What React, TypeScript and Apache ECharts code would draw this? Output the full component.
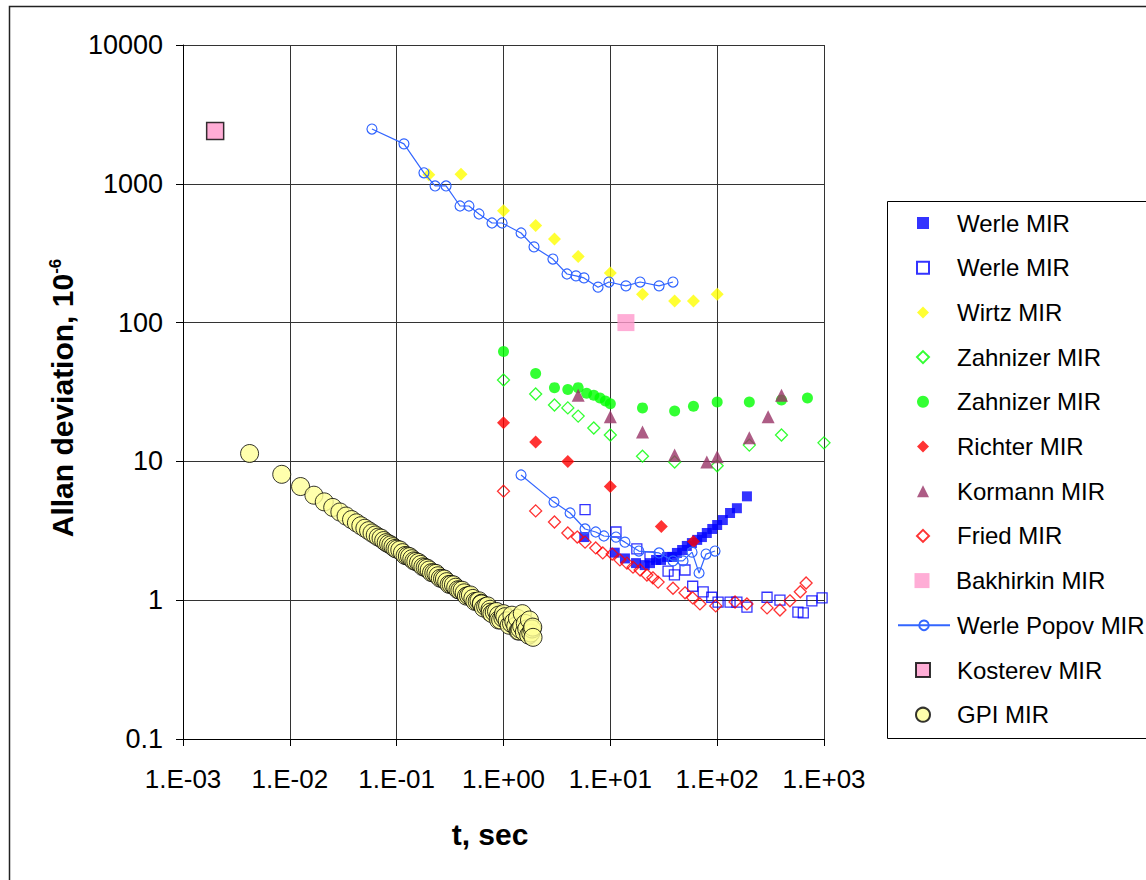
import React, { useEffect, useRef } from 'react';
import * as echarts from 'echarts';

const FONT = '"Liberation Sans", Arial, sans-serif';

const xTickValues = [0.001, 0.01, 0.1, 1, 10, 100, 1000];
const xTickLabels = ['1.E-03', '1.E-02', '1.E-01', '1.E+00', '1.E+01', '1.E+02', '1.E+03'];
const yTickValues = [0.1, 1, 10, 100, 1000, 10000];
const yTickLabels = ['0.1', '1', '10', '100', '1000', '10000'];

const werleFilled = [[5.7, 2.85], [11, 2.2], [13.7, 2.0], [17.4, 1.85], [21, 1.79], [23.5, 1.85], [26.8, 1.95], [29.8, 1.95], [34, 2.05], [38, 2.05], [42, 2.19], [47, 2.3], [52, 2.46], [58, 2.58], [65, 2.72], [72, 2.85], [80, 3.05], [90, 3.26], [100, 3.48], [113, 3.78], [132, 4.25], [153, 4.6], [190, 5.6]];
const werleOpen = [[5.8, 4.5], [11.3, 3.1], [17.7, 2.34], [23.5, 2.05], [34.7, 1.62], [39.8, 1.52], [50, 1.65], [59, 1.26], [74, 1.15], [89, 1.05], [102, 0.97], [132, 0.97], [153, 0.97], [190, 0.89], [293, 1.05], [387, 1.0], [570, 0.82], [640, 0.81], [770, 0.99], [960, 1.04]];
const wirtz = [[0.2, 1160], [0.4, 1170], [1, 640], [2, 500], [3, 400], [5, 300], [10, 228], [20, 160], [40, 143], [60, 143], [100, 160]];
const zahnizerOpen = [[1, 38.6], [2, 30.6], [3, 25.5], [4, 24.3], [5, 21.2], [7, 17.4], [10, 15.5], [20, 10.9], [40, 9.9], [100, 9.3], [200, 13.1], [400, 15.5], [1000, 13.6]];
const zahnizerFilled = [[1, 62], [2, 43], [3, 34], [4, 33], [5, 34], [6, 31], [7, 30], [8, 28.6], [9, 27.2], [10, 26], [20, 24.3], [40, 23.1], [60, 25], [100, 26.8], [200, 26.8], [400, 27.7], [700, 28.6]];
const richter = [[1, 19], [2, 13.8], [4, 10], [10, 6.6], [30, 3.4], [60, 2.65]];
const kormann = [[5, 30], [10, 21], [20, 16.3], [40, 11.1], [80, 9.9], [100, 10.8], [200, 14.8], [300, 21], [400, 30]];
const fried = [[1, 6.1], [2, 4.4], [3, 3.66], [4, 3.05], [4.9, 2.85], [5.8, 2.62], [7.3, 2.38], [8.5, 2.19], [10.4, 2.15], [12.3, 1.95], [14.3, 1.85], [16.3, 1.73], [19, 1.65], [22, 1.52], [25, 1.45], [28, 1.35], [38.6, 1.22], [50, 1.13], [59, 1.04], [69, 0.94], [97, 0.91], [147, 0.97], [190, 0.94], [293, 0.88], [387, 0.85], [480, 0.99], [600, 1.15], [680, 1.33]];
const bakhirkin = [[14, 100]];
const popovUpper = [[0.0587, 2480], [0.117, 1940], [0.18, 1200], [0.229, 965], [0.29, 965], [0.392, 692], [0.475, 692], [0.59, 606], [0.78, 522], [0.97, 522], [1.46, 442], [1.93, 351], [2.9, 287], [3.93, 224], [4.77, 217], [5.67, 210], [7.67, 180], [9.7, 196], [14, 184], [19, 196], [28.6, 184], [38.6, 196]];
const popovLower = [[1.46, 7.98], [2.97, 5.09], [4.2, 4.25], [5.8, 3.26], [7.3, 3.1], [8.7, 2.9], [11.3, 2.85], [13.7, 2.62], [18.5, 2.26], [28.6, 2.19], [38.6, 1.92], [47.9, 1.92], [58.2, 2.22], [67.7, 1.57], [78.7, 2.15], [95.5, 2.26]];
const kosterev = [[0.002, 2400]];
const gpiT = [0.0042, 0.0084, 0.0126, 0.0168, 0.021, 0.0252, 0.0294, 0.0336, 0.0378, 0.042, 0.0462, 0.0504, 0.0546, 0.0588, 0.063, 0.0672, 0.0756, 0.084, 0.0924, 0.1008, 0.1134, 0.126, 0.1386, 0.1512, 0.168, 0.1848, 0.2016, 0.2226, 0.2436, 0.2688, 0.294, 0.3234, 0.357, 0.3906, 0.4284, 0.4704, 0.5166, 0.567, 0.6216, 0.6804, 0.7476, 0.819, 0.8988, 0.987, 1.0836, 1.1886, 1.302, 1.428, 1.5666, 1.722, 1.89, 0.9, 1.0, 1.2, 1.35, 1.5, 1.6, 1.75, 1.85, 1.4, 0.75, 0.62,
  0.0714, 0.0798, 0.0882, 0.0966, 0.107, 0.12, 0.132, 0.145, 0.16, 0.176, 0.193, 0.212, 0.233, 0.256, 0.28, 0.31, 0.34, 0.375, 0.41, 0.45, 0.49, 0.54, 0.59, 0.65, 0.71, 0.78, 0.86, 0.94, 1.03, 1.13, 1.25, 1.37, 1.48, 1.65, 1.8, 1.88];
const gpiV = [11.4, 8.07, 6.59, 5.71, 5.11, 4.66, 4.32, 4.04, 3.81, 3.61, 3.44, 3.3, 3.17, 3.05, 2.95, 2.85, 2.69, 2.55, 2.43, 2.33, 2.2, 2.08, 1.99, 1.9, 1.81, 1.72, 1.65, 1.57, 1.5, 1.43, 1.36, 1.3, 1.24, 1.18, 1.13, 1.08, 1.03, 0.98, 0.94, 0.9, 0.86, 0.82, 0.78, 0.745, 0.71, 0.68, 0.65, 0.62, 0.59, 0.56, 0.54, 0.72, 0.8, 0.78, 0.74, 0.8, 0.68, 0.72, 0.62, 0.6, 0.82, 0.95,
  2.8, 2.6, 2.5, 2.36, 2.3, 2.1, 2.06, 1.92, 1.87, 1.74, 1.7, 1.58, 1.56, 1.44, 1.42, 1.3, 1.29, 1.19, 1.18, 1.07, 1.09, 0.98, 0.99, 0.88, 0.91, 0.8, 0.83, 0.72, 0.76, 0.66, 0.7, 0.6, 0.65, 0.62, 0.58, 0.64];

const legendNamesA = ['Werle MIR', 'Werle MIR ', 'Wirtz MIR', 'Zahnizer MIR', 'Zahnizer MIR ', 'Richter MIR', 'Kormann MIR', 'Fried MIR'];
const legendNamesBak = ['Bakhirkin MIR'];
const legendNamesB = ['Werle Popov MIR'];
const legendNamesC = ['Kosterev MIR', 'GPI MIR'];

function tickLabel(values: number[], labels: string[], v: number) {
  const e = Math.round(Math.log10(v));
  const i = values.findIndex((t) => Math.round(Math.log10(t)) === e);
  return i >= 0 ? labels[i] : '';
}

function sc(name: string, data: number[][], symbol: string, size: number, itemStyle: any) {
  return { type: 'scatter', name, data, symbol, symbolSize: size, itemStyle, emphasis: { disabled: true } };
}

export default function App() {
  const ref = useRef<HTMLDivElement>(null);
  useEffect(() => {
    const chart = echarts.init(ref.current!, null, { renderer: 'svg' });
    const gpi = gpiT.map((t, i) => [t, gpiV[i]]).sort((a, b) => a[0] - b[0]);
    const popovStyle = { color: 'rgba(255,255,255,0)', borderColor: '#3366FF', borderWidth: 1.2 };
    const rowH = 44.7;
    const firstTop = 208;
    const iconCx = 922;
    const textX = 956;
    const legendText = { fontSize: 24, color: '#000', fontFamily: FONT, lineHeight: 30 };
    const baseLegend = { orient: 'vertical', padding: 0, itemGap: rowH - 30, selectedMode: false };
    const iconLegend = (names: string[], row: number, size: number) => ({
      ...baseLegend, left: iconCx - size / 2, top: firstTop + row * rowH, itemWidth: size, itemHeight: size,
      textStyle: { ...legendText, padding: [0, 0, 0, textX - (iconCx - size / 2) - size - 5] }, data: names,
    });
    chart.setOption({
      animation: false,
      backgroundColor: '#fff',
      textStyle: { fontFamily: FONT },
      graphic: [
        { type: 'rect', shape: { x: 9.5, y: 6.5, width: 1200, height: 1000 }, style: { fill: 'none', stroke: '#222', lineWidth: 1.5 }, silent: true },
        { type: 'rect', shape: { x: 887.5, y: 201.5, width: 300, height: 537 }, style: { fill: '#fff', stroke: '#000', lineWidth: 1 }, silent: true },
      ],
      grid: { left: 183, top: 45, width: 641, height: 694, containLabel: false },
      xAxis: {
        type: 'log', logBase: 10, min: 0.001, max: 1000,
        name: 't, sec', nameLocation: 'middle', nameGap: 80,
        nameTextStyle: { fontSize: 30, fontWeight: 'bold', color: '#000', fontFamily: FONT, padding: [0, 27, 0, 0] },
        axisLine: { show: true, onZero: false, lineStyle: { color: '#000', width: 1 } },
        axisTick: { show: true, inside: false, length: 7, lineStyle: { color: '#000' } },
        axisLabel: { margin: 27, fontSize: 26, color: '#000', fontFamily: FONT, formatter: (v: number) => tickLabel(xTickValues, xTickLabels, v) },
        splitLine: { show: true, lineStyle: { color: '#333', width: 1 } },
        minorTick: { show: false },
      },
      yAxis: {
        type: 'log', logBase: 10, min: 0.1, max: 10000,
        name: 'Allan deviation, 10{sup|-6}', nameLocation: 'middle', nameRotate: 90, nameGap: 104,
        nameTextStyle: {
          fontSize: 30, fontWeight: 'bold', color: '#000', fontFamily: FONT, padding: [0, 12, 0, 0],
          rich: { sup: { fontSize: 17, fontWeight: 'bold', color: '#000', fontFamily: FONT, verticalAlign: 'top' } },
        },
        axisLine: { show: true, lineStyle: { color: '#000', width: 1 } },
        axisTick: { show: true, inside: false, length: 7, lineStyle: { color: '#000' } },
        axisLabel: { margin: 20, fontSize: 27, color: '#000', fontFamily: FONT, formatter: (v: number) => tickLabel(yTickValues, yTickLabels, v) },
        splitLine: { show: true, lineStyle: { color: '#333', width: 1 } },
        minorTick: { show: false },
      },
      legend: [
        iconLegend(legendNamesA, 0, 12),
        iconLegend(legendNamesBak, 8, 15),
        { ...baseLegend, left: 897, top: firstTop + 9 * rowH, itemWidth: 52, itemHeight: 12, textStyle: { ...legendText, padding: [0, 0, 0, 2] }, data: legendNamesB },
        iconLegend(legendNamesC, 10, 14),
      ],
      series: [
        sc('Werle MIR', werleFilled, 'rect', 10, { color: '#0000FF' }),
        sc('Werle MIR ', werleOpen, 'rect', 10, { color: 'rgba(255,255,255,0)', borderColor: '#0000FF', borderWidth: 1.3 }),
        sc('Wirtz MIR', wirtz, 'diamond', 13, { color: '#FFFF00' }),
        sc('Zahnizer MIR', zahnizerOpen, 'diamond', 12, { color: 'rgba(255,255,255,0)', borderColor: '#00FF00', borderWidth: 1.3 }),
        sc('Zahnizer MIR ', zahnizerFilled, 'circle', 11, { color: '#00FF00' }),
        sc('Richter MIR', richter, 'diamond', 13, { color: '#FF0000' }),
        sc('Kormann MIR', kormann, 'triangle', 13, { color: '#993366' }),
        sc('Fried MIR', fried, 'diamond', 12, { color: 'rgba(255,255,255,0)', borderColor: '#FF0000', borderWidth: 1.3 }),
        sc('Bakhirkin MIR', bakhirkin, 'rect', 17, { color: '#FF99CC' }),
        {
          type: 'line', name: 'Werle Popov MIR', data: popovUpper, symbol: 'circle', symbolSize: 10, showSymbol: true,
          lineStyle: { color: '#3366FF', width: 1.2 }, itemStyle: popovStyle, emphasis: { disabled: true },
        },
        {
          type: 'line', name: 'Werle Popov MIR', data: popovLower, symbol: 'circle', symbolSize: 10, showSymbol: true,
          lineStyle: { color: '#3366FF', width: 1.2 }, itemStyle: popovStyle, emphasis: { disabled: true },
        },
        sc('Kosterev MIR', kosterev, 'rect', 17, { color: '#FF99CC', borderColor: '#000', borderWidth: 1.5 }),
        sc('GPI MIR', gpi, 'circle', 18, { color: '#FFFF99', borderColor: '#000', borderWidth: 1 }),
      ],
    });
    return () => chart.dispose();
  }, []);
  return <div ref={ref} style={{ position: 'absolute', left: 0, top: 0, width: 1146, height: 880 }} />;
}
